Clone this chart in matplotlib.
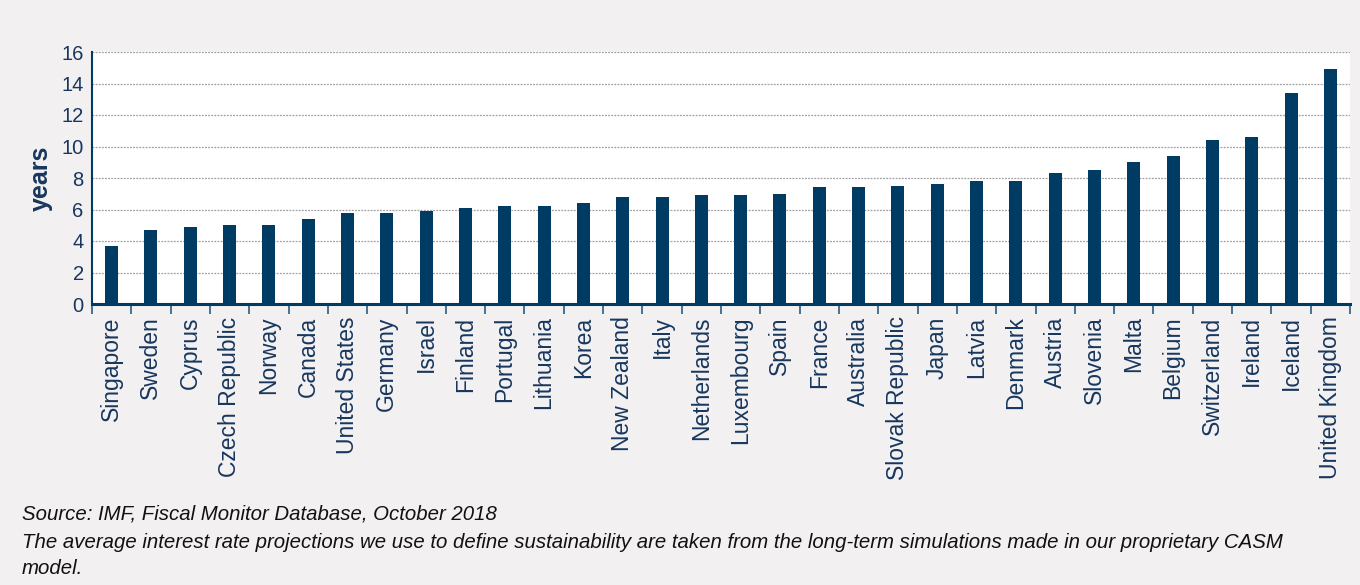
import numpy as np
import matplotlib.pyplot as plt

countries = ["Singapore", "Sweden", "Cyprus", "Czech Republic", "Norway", "Canada",
             "United States", "Germany", "Israel", "Finland", "Portugal", "Lithuania",
             "Korea", "New Zealand", "Italy", "Netherlands", "Luxembourg", "Spain",
             "France", "Australia", "Slovak Republic", "Japan", "Latvia", "Denmark",
             "Austria", "Slovenia", "Malta", "Belgium", "Switzerland", "Ireland",
             "Iceland", "United Kingdom"]
years = [3.7, 4.7, 4.9, 5.0, 5.0, 5.4, 5.8, 5.8, 5.9, 6.1, 6.2, 6.2, 6.4, 6.8, 6.8,
         6.9, 6.9, 7.0, 7.4, 7.4, 7.5, 7.6, 7.8, 7.8, 8.3, 8.5, 9.0, 9.4, 10.4, 10.6,
         13.4, 14.9]
y_ticks = [0, 2, 4, 6, 8, 10, 12, 14, 16]

navy = "#003b64"
text_col = "#17375e"
bg = "#f2f0f0"

plt.rcParams["font.family"] = ["Liberation Sans", "DejaVu Sans"]

fig = plt.figure(figsize=(13.6, 5.85), dpi=100, facecolor=bg)
ax = fig.add_axes([92 / 1360, 1 - 304 / 585, (1350 - 92) / 1360, (304 - 52) / 585])
ax.set_facecolor("white")

x = np.arange(len(countries))
ax.bar(x, years, width=0.33, color=navy, zorder=3)

ax.set_xlim(-0.5, len(countries) - 0.5)
ax.set_ylim(0, 16)
ax.set_yticks(y_ticks)
ax.set_yticklabels([str(v) for v in y_ticks], fontsize=14.5, color=text_col)
ax.yaxis.grid(True, linestyle=(0, (1.5, 1)), color="#a0a0a0", linewidth=0.9, zorder=0)
ax.tick_params(axis="y", length=0, pad=6)

ax.set_xticks(x)
ax.set_xticklabels(countries, rotation=90, fontsize=16.5, color=text_col)
ax.set_xticks(np.arange(len(countries) + 1) - 0.5, minor=True)
ax.tick_params(axis="x", which="major", length=0, pad=9)
ax.tick_params(axis="x", which="minor", length=7, width=1.2, color="#2a5a85", direction="out")

for s in ["top", "right"]:
    ax.spines[s].set_visible(False)
ax.spines["left"].set_color(navy)
ax.spines["left"].set_linewidth(1.5)
ax.spines["bottom"].set_color(navy)
ax.spines["bottom"].set_linewidth(2.2)

ax.set_ylabel("years", fontsize=18, fontweight="bold", color=text_col, labelpad=6)

note_kw = dict(fontsize=14.7, style="italic", va="center", color="#111111")
fig.text(22 / 1360, 1 - 514 / 585, "Source: IMF, Fiscal Monitor Database, October 2018", **note_kw)
fig.text(22 / 1360, 1 - 542 / 585,
         "The average interest rate projections we use to define sustainability are taken from the long-term simulations made in our proprietary CASM",
         **note_kw)
fig.text(22 / 1360, 1 - 568 / 585, "model.", **note_kw)

fig.savefig("out.png", dpi=100, facecolor=bg)
